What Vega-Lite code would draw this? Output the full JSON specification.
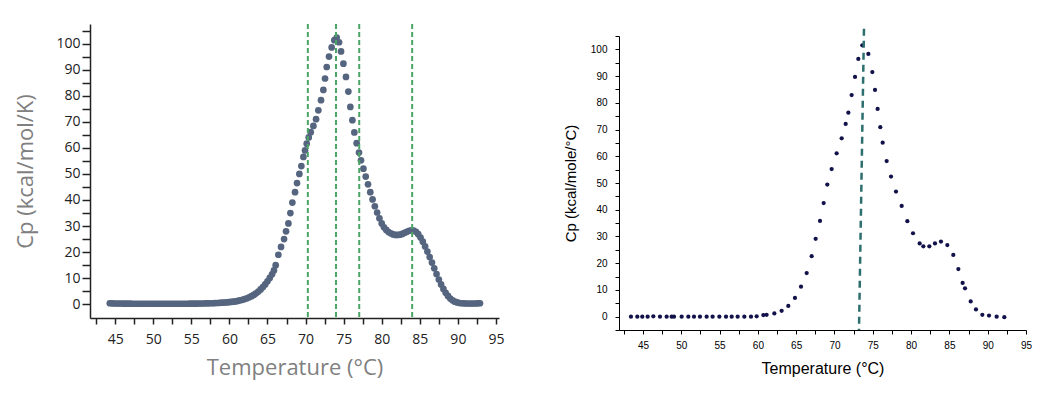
{
  "$schema": "https://vega.github.io/schema/vega-lite/v6.json",
  "background": "white",
  "padding": {"left": 14, "top": 23, "right": 5, "bottom": 5},
  "spacing": 59,
  "config": {"view": {"stroke": null}},
  "datasets": {
    "left": [
      {"T": 44.3, "Cp": 0.4}, {"T": 44.6, "Cp": 0.35}, {"T": 44.9, "Cp": 0.3}, {"T": 45.2, "Cp": 0.3}, {"T": 45.5, "Cp": 0.3},
      {"T": 45.8, "Cp": 0.3}, {"T": 46.1, "Cp": 0.25}, {"T": 46.4, "Cp": 0.25}, {"T": 46.7, "Cp": 0.25}, {"T": 47.0, "Cp": 0.25},
      {"T": 47.3, "Cp": 0.2}, {"T": 47.6, "Cp": 0.2}, {"T": 47.9, "Cp": 0.2}, {"T": 48.2, "Cp": 0.2}, {"T": 48.5, "Cp": 0.2},
      {"T": 48.8, "Cp": 0.2}, {"T": 49.1, "Cp": 0.2}, {"T": 49.4, "Cp": 0.2}, {"T": 49.7, "Cp": 0.2}, {"T": 50.0, "Cp": 0.2},
      {"T": 50.3, "Cp": 0.2}, {"T": 50.6, "Cp": 0.2}, {"T": 50.9, "Cp": 0.2}, {"T": 51.2, "Cp": 0.2}, {"T": 51.5, "Cp": 0.2},
      {"T": 51.8, "Cp": 0.2}, {"T": 52.1, "Cp": 0.2}, {"T": 52.4, "Cp": 0.2}, {"T": 52.7, "Cp": 0.2}, {"T": 53.0, "Cp": 0.2},
      {"T": 53.3, "Cp": 0.2}, {"T": 53.6, "Cp": 0.2}, {"T": 53.9, "Cp": 0.2}, {"T": 54.2, "Cp": 0.2}, {"T": 54.5, "Cp": 0.2},
      {"T": 54.8, "Cp": 0.25}, {"T": 55.1, "Cp": 0.25}, {"T": 55.4, "Cp": 0.25}, {"T": 55.7, "Cp": 0.25}, {"T": 56.0, "Cp": 0.3},
      {"T": 56.3, "Cp": 0.3}, {"T": 56.6, "Cp": 0.3}, {"T": 56.9, "Cp": 0.35}, {"T": 57.2, "Cp": 0.35}, {"T": 57.5, "Cp": 0.4},
      {"T": 57.8, "Cp": 0.4}, {"T": 58.1, "Cp": 0.45}, {"T": 58.4, "Cp": 0.5}, {"T": 58.7, "Cp": 0.55}, {"T": 59.0, "Cp": 0.6},
      {"T": 59.3, "Cp": 0.65}, {"T": 59.6, "Cp": 0.7}, {"T": 59.9, "Cp": 0.8}, {"T": 60.2, "Cp": 0.9}, {"T": 60.5, "Cp": 1.0},
      {"T": 60.8, "Cp": 1.1}, {"T": 61.1, "Cp": 1.3}, {"T": 61.4, "Cp": 1.5}, {"T": 61.7, "Cp": 1.7}, {"T": 62.0, "Cp": 2.0},
      {"T": 62.3, "Cp": 2.3}, {"T": 62.6, "Cp": 2.7}, {"T": 62.9, "Cp": 3.1}, {"T": 63.2, "Cp": 3.6}, {"T": 63.5, "Cp": 4.2},
      {"T": 63.8, "Cp": 4.9}, {"T": 64.1, "Cp": 5.7}, {"T": 64.4, "Cp": 6.6}, {"T": 64.7, "Cp": 7.6}, {"T": 65.0, "Cp": 8.8},
      {"T": 65.3, "Cp": 10.1}, {"T": 65.6, "Cp": 11.5}, {"T": 65.85, "Cp": 13.0}, {"T": 66.08, "Cp": 15.0}, {"T": 66.43, "Cp": 19.0},
      {"T": 66.78, "Cp": 22.0}, {"T": 67.18, "Cp": 25.0}, {"T": 67.44, "Cp": 28.0}, {"T": 67.75, "Cp": 31.0}, {"T": 68.01, "Cp": 35.0},
      {"T": 68.27, "Cp": 39.0}, {"T": 68.62, "Cp": 43.0}, {"T": 68.88, "Cp": 46.5}, {"T": 69.19, "Cp": 50.0}, {"T": 69.45, "Cp": 53.0},
      {"T": 69.72, "Cp": 56.5}, {"T": 69.93, "Cp": 59.0}, {"T": 70.15, "Cp": 61.6}, {"T": 70.42, "Cp": 64.0}, {"T": 70.68, "Cp": 66.0},
      {"T": 71.03, "Cp": 68.4}, {"T": 71.38, "Cp": 71.0}, {"T": 71.68, "Cp": 74.4}, {"T": 72.03, "Cp": 78.3}, {"T": 72.34, "Cp": 82.2},
      {"T": 72.56, "Cp": 86.6}, {"T": 72.78, "Cp": 91.0}, {"T": 73.08, "Cp": 95.0}, {"T": 73.43, "Cp": 98.5}, {"T": 73.78, "Cp": 101.3},
      {"T": 74.09, "Cp": 102.3}, {"T": 74.4, "Cp": 100.5}, {"T": 74.66, "Cp": 97.0}, {"T": 74.97, "Cp": 92.3}, {"T": 75.31, "Cp": 87.2},
      {"T": 75.62, "Cp": 81.6}, {"T": 75.88, "Cp": 75.7}, {"T": 76.15, "Cp": 70.6}, {"T": 76.41, "Cp": 65.9}, {"T": 76.71, "Cp": 61.8},
      {"T": 77.02, "Cp": 58.2}, {"T": 77.28, "Cp": 55.2}, {"T": 77.6, "Cp": 52.0}, {"T": 77.9, "Cp": 49.0}, {"T": 78.2, "Cp": 46.0},
      {"T": 78.5, "Cp": 43.0}, {"T": 78.8, "Cp": 40.2}, {"T": 79.1, "Cp": 37.6}, {"T": 79.4, "Cp": 35.2}, {"T": 79.7, "Cp": 33.0},
      {"T": 80.0, "Cp": 31.0}, {"T": 80.3, "Cp": 29.5}, {"T": 80.6, "Cp": 28.5}, {"T": 80.9, "Cp": 27.7}, {"T": 81.2, "Cp": 27.2},
      {"T": 81.5, "Cp": 26.8}, {"T": 81.8, "Cp": 26.6}, {"T": 82.1, "Cp": 26.6}, {"T": 82.4, "Cp": 26.7}, {"T": 82.7, "Cp": 27.0},
      {"T": 83.0, "Cp": 27.4}, {"T": 83.3, "Cp": 27.8}, {"T": 83.6, "Cp": 28.2}, {"T": 83.9, "Cp": 28.4}, {"T": 84.2, "Cp": 28.3},
      {"T": 84.5, "Cp": 27.8}, {"T": 84.8, "Cp": 26.9}, {"T": 85.1, "Cp": 25.6}, {"T": 85.4, "Cp": 24.0}, {"T": 85.7, "Cp": 22.2},
      {"T": 86.0, "Cp": 20.2}, {"T": 86.3, "Cp": 18.1}, {"T": 86.6, "Cp": 16.0}, {"T": 86.9, "Cp": 13.8}, {"T": 87.2, "Cp": 11.6},
      {"T": 87.5, "Cp": 9.5}, {"T": 87.8, "Cp": 7.6}, {"T": 88.1, "Cp": 5.9}, {"T": 88.4, "Cp": 4.4}, {"T": 88.7, "Cp": 3.2},
      {"T": 89.0, "Cp": 2.2}, {"T": 89.3, "Cp": 1.5}, {"T": 89.6, "Cp": 1.0}, {"T": 89.9, "Cp": 0.7}, {"T": 90.2, "Cp": 0.5},
      {"T": 90.5, "Cp": 0.4}, {"T": 90.8, "Cp": 0.35}, {"T": 91.1, "Cp": 0.3}, {"T": 91.4, "Cp": 0.3}, {"T": 91.7, "Cp": 0.3},
      {"T": 92.0, "Cp": 0.3}, {"T": 92.3, "Cp": 0.3}, {"T": 92.6, "Cp": 0.35}, {"T": 92.9, "Cp": 0.4}
    ],
    "leftRules": [{"T": 70.3}, {"T": 74.0}, {"T": 77.05}, {"T": 84.0}],
    "right": [
      {"T": 43.43, "Cp": 0}, {"T": 44.26, "Cp": 0}, {"T": 44.91, "Cp": 0}, {"T": 45.61, "Cp": 0}, {"T": 46.35, "Cp": 0.1},
      {"T": 47.22, "Cp": 0}, {"T": 48.09, "Cp": 0}, {"T": 48.74, "Cp": 0}, {"T": 49.05, "Cp": 0}, {"T": 50.05, "Cp": 0},
      {"T": 50.92, "Cp": 0}, {"T": 51.66, "Cp": 0}, {"T": 52.44, "Cp": 0}, {"T": 53.31, "Cp": 0}, {"T": 54.09, "Cp": 0},
      {"T": 54.97, "Cp": 0}, {"T": 55.84, "Cp": 0}, {"T": 56.58, "Cp": 0}, {"T": 57.36, "Cp": 0}, {"T": 58.23, "Cp": 0},
      {"T": 59.1, "Cp": 0}, {"T": 59.84, "Cp": 0.1}, {"T": 60.71, "Cp": 0.6}, {"T": 61.14, "Cp": 0.7}, {"T": 62.15, "Cp": 1.2},
      {"T": 63.1, "Cp": 2.2}, {"T": 63.97, "Cp": 4.0}, {"T": 64.84, "Cp": 7.0}, {"T": 65.63, "Cp": 11.2}, {"T": 66.37, "Cp": 16.3},
      {"T": 67.02, "Cp": 22.6}, {"T": 67.54, "Cp": 29.1}, {"T": 68.11, "Cp": 35.8}, {"T": 68.59, "Cp": 42.5}, {"T": 69.06, "Cp": 49.4},
      {"T": 69.63, "Cp": 55.2}, {"T": 70.28, "Cp": 61.1}, {"T": 70.94, "Cp": 66.7}, {"T": 71.46, "Cp": 72.1}, {"T": 71.81, "Cp": 76.3},
      {"T": 72.24, "Cp": 82.9}, {"T": 72.68, "Cp": 89.7}, {"T": 73.11, "Cp": 96.4}, {"T": 73.63, "Cp": 101.5}, {"T": 74.42, "Cp": 98.3},
      {"T": 74.94, "Cp": 91.5}, {"T": 75.29, "Cp": 84.8}, {"T": 75.63, "Cp": 77.7}, {"T": 75.98, "Cp": 70.9}, {"T": 76.29, "Cp": 65.1},
      {"T": 76.81, "Cp": 58.2}, {"T": 77.38, "Cp": 52.4}, {"T": 78.03, "Cp": 46.8}, {"T": 78.77, "Cp": 41.4}, {"T": 79.51, "Cp": 35.7},
      {"T": 80.25, "Cp": 31.2}, {"T": 81.12, "Cp": 27.4}, {"T": 81.6, "Cp": 26.3}, {"T": 82.38, "Cp": 26.3}, {"T": 83.12, "Cp": 27.4},
      {"T": 83.9, "Cp": 28.1}, {"T": 84.73, "Cp": 26.8}, {"T": 85.51, "Cp": 23.1}, {"T": 86.17, "Cp": 17.8}, {"T": 86.73, "Cp": 12.6},
      {"T": 87.04, "Cp": 10.6}, {"T": 87.78, "Cp": 5.7}, {"T": 88.47, "Cp": 2.7}, {"T": 89.3, "Cp": 0.7}, {"T": 90.17, "Cp": 0.4},
      {"T": 91.17, "Cp": 0}, {"T": 92.17, "Cp": -0.2}
    ],
    "rightRule": [{"Ttop": 73.85, "Cptop": 107.7, "Tbot": 73.2, "Cpbot": -5}]
  },
  "hconcat": [
    {
      "width": 409,
      "height": 306,
      "resolve": {"axis": {"x": "independent", "y": "independent"}},
      "layer": [
        {
          "data": {"name": "left"},
          "mark": {"type": "point", "filled": true, "size": 45, "color": "#56657f", "opacity": 1},
          "encoding": {
            "x": {
              "field": "T", "type": "quantitative",
              "scale": {"domain": [41.7, 95.4], "nice": false, "zero": false},
              "axis": {
                "title": "Temperature (°C)", "orient": "bottom",
                "values": [45, 50, 55, 60, 65, 70, 75, 80, 85, 90, 95],
                "offset": -12, "grid": false, "labelFlush": false, "labelOverlap": false,
                "tickSize": 6, "tickWidth": 1.5, "tickColor": "#222222",
                "domainColor": "#222222", "domainWidth": 1.5,
                "labelFont": "Open Sans", "labelFontSize": 14, "labelColor": "#222222", "labelPadding": 8,
                "titleFont": "Open Sans", "titleFontSize": 22, "titleFontWeight": "normal", "titleColor": "#808080", "titlePadding": 11
              }
            },
            "y": {
              "field": "Cp", "type": "quantitative",
              "scale": {"domain": [-5.26, 107.5], "nice": false, "zero": false, "range": [294, 0]},
              "axis": {
                "title": "Cp (kcal/mol/K)", "orient": "left",
                "values": [0, 10, 20, 30, 40, 50, 60, 70, 80, 90, 100],
                "grid": false, "labelOverlap": false, "labelFlush": false,
                "tickSize": 8, "tickWidth": 1.5, "tickColor": "#222222",
                "domainColor": "#222222", "domainWidth": 1.5,
                "labelFont": "Open Sans", "labelFontSize": 14, "labelColor": "#222222", "labelPadding": 2,
                "titleFont": "Open Sans", "titleFontSize": 22, "titleFontWeight": "normal", "titleColor": "#808080", "titlePadding": 18
              }
            }
          }
        },
        {
          "data": {"name": "leftRules"},
          "mark": {"type": "rule", "color": "#4aa564", "strokeDash": [5, 3], "strokeWidth": 2},
          "encoding": {
            "x": {
              "field": "T", "type": "quantitative",
              "axis": {"orient": "bottom", "title": null, "labels": false, "domain": false, "offset": -12,
                       "values": [42.5, 47.5, 52.5, 57.5, 62.5, 67.5, 72.5, 77.5, 82.5, 87.5, 92.5],
                       "tickSize": 6, "tickWidth": 1.5, "tickColor": "#222222", "grid": false}
            },
            "y": {
              "datum": 107.5, "type": "quantitative",
              "axis": {"orient": "left", "title": null, "labels": false, "domain": false,
                       "values": [5, 15, 25, 35, 45, 55, 65, 75, 85, 95, 105],
                       "tickSize": 8, "tickWidth": 1.5, "tickColor": "#222222", "grid": false}
            },
            "y2": {"datum": -5.26}
          }
        }
      ]
    },
    {
      "width": 407,
      "height": 306,
      "resolve": {"axis": {"x": "independent", "y": "independent"}},
      "layer": [
        {
          "data": {"name": "right"},
          "mark": {"type": "point", "filled": true, "size": 18, "color": "#12124a", "opacity": 1},
          "encoding": {
            "x": {
              "field": "T", "type": "quantitative",
              "scale": {"domain": [41.87, 95], "nice": false, "zero": false},
              "axis": {
                "title": "Temperature (°C)", "orient": "bottom",
                "values": [45, 50, 55, 60, 65, 70, 75, 80, 85, 90, 95],
                "grid": false, "labelFlush": false, "labelOverlap": false,
                "tickSize": 4, "tickColor": "#000000", "domainColor": "#000000",
                "labelFont": "Liberation Sans", "labelFontSize": 10, "labelColor": "#000000", "labelPadding": 6,
                "titleFont": "Liberation Sans", "titleFontSize": 16, "titleFontWeight": "normal", "titleColor": "#000000", "titlePadding": 10
              }
            },
            "y": {
              "field": "Cp", "type": "quantitative",
              "scale": {"domain": [-5, 105], "nice": false, "zero": false, "range": [306, 12]},
              "axis": {
                "title": "Cp (kcal/mole/°C)", "orient": "left",
                "values": [0, 10, 20, 30, 40, 50, 60, 70, 80, 90, 100],
                "grid": false, "labelOverlap": false, "labelFlush": false,
                "tickSize": 4, "tickColor": "#000000", "domainColor": "#000000",
                "labelFont": "Liberation Sans", "labelFontSize": 10, "labelColor": "#000000", "labelPadding": 8,
                "titleFont": "Liberation Sans", "titleFontSize": 15, "titleFontWeight": "normal", "titleColor": "#000000", "titlePadding": 12
              }
            }
          }
        },
        {
          "data": {"name": "rightRule"},
          "mark": {"type": "rule", "color": "#2d6e6e", "strokeDash": [7, 5], "strokeWidth": 2.5},
          "encoding": {
            "x": {
              "field": "Ttop", "type": "quantitative",
              "axis": {"orient": "bottom", "title": null, "labels": false, "domain": false,
                       "values": [42.5, 47.5, 52.5, 57.5, 62.5, 67.5, 72.5, 77.5, 82.5, 87.5, 92.5],
                       "tickSize": 4, "tickColor": "#000000", "grid": false}
            },
            "y": {
              "field": "Cptop", "type": "quantitative",
              "axis": {"orient": "left", "title": null, "labels": false, "domain": false,
                       "values": [-5, 5, 15, 25, 35, 45, 55, 65, 75, 85, 95, 105],
                       "tickSize": 4, "tickColor": "#000000", "grid": false}
            },
            "x2": {"field": "Tbot"},
            "y2": {"field": "Cpbot"}
          }
        }
      ]
    }
  ]
}
